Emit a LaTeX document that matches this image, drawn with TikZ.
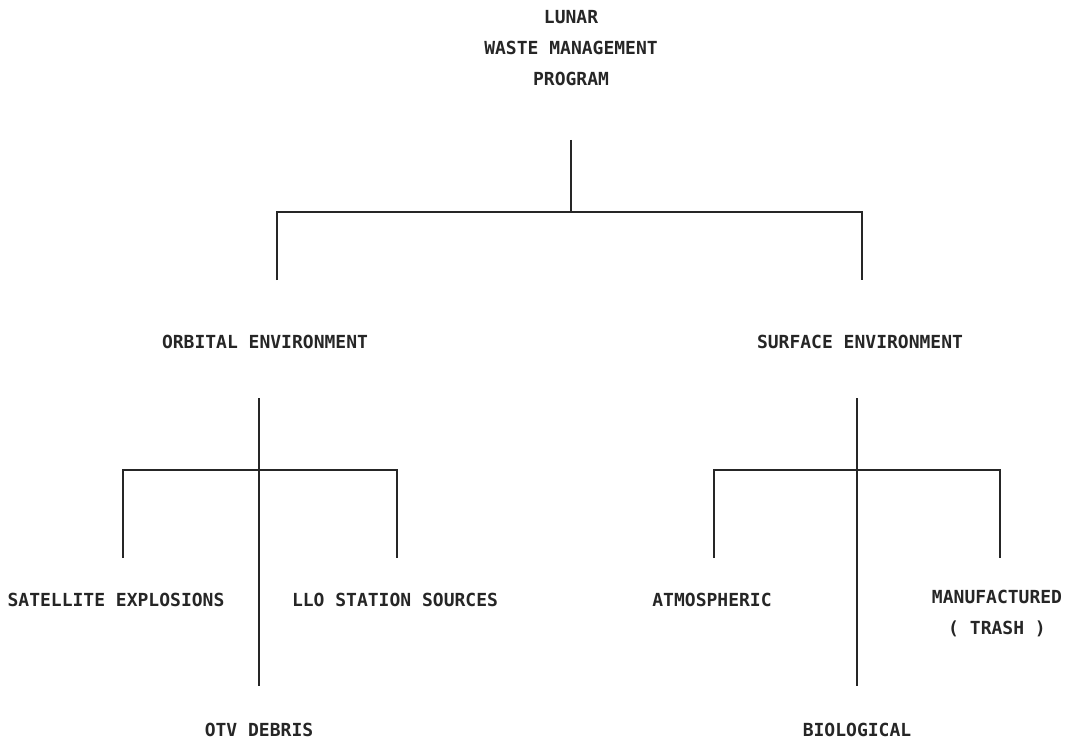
\documentclass[tikz,border=0pt]{standalone}
\usepackage{fontspec}
\setmainfont{DejaVu Sans Mono}
\begin{document}
\begin{tikzpicture}[x=1pt,y=-1pt,
  lbl/.style={inner sep=0pt, font=\fontsize{18}{31}\selectfont\bfseries, align=center, text=black!85},
  con/.style={line width=1.6pt, black!85}]
\useasboundingbox (0,0) rectangle (1073,746);
% texts
\node[lbl] (root) at (571,48) {LUNAR\\WASTE MANAGEMENT\\PROGRAM};
\node[lbl] (orb) at (265,342) {ORBITAL ENVIRONMENT};
\node[lbl] (sur) at (860,342) {SURFACE ENVIRONMENT};
\node[lbl] (sat) at (116,600) {SATELLITE EXPLOSIONS};
\node[lbl] (llo) at (395,600) {LLO STATION SOURCES};
\node[lbl] (otv) at (259,730) {OTV DEBRIS};
\node[lbl] (atm) at (712,600) {ATMOSPHERIC};
\node[lbl] (man) at (997,614) {MANUFACTURED\\( TRASH )};
\node[lbl] (bio) at (857,730) {BIOLOGICAL};
% junction coordinates
\coordinate (rt) at (571,140);
\coordinate (rj) at (571,212);
\coordinate (ol) at (277,212);
\coordinate (olb) at (277,280);
\coordinate (sl) at (862,212);
\coordinate (slb) at (862,280);
\coordinate (ot) at (259,398);
\coordinate (oj) at (259,470);
\coordinate (oa) at (123,470);
\coordinate (oab) at (123,558);
\coordinate (ob) at (397,470);
\coordinate (obb) at (397,558);
\coordinate (oc) at (259,686);
\coordinate (st) at (857,398);
\coordinate (sj) at (857,470);
\coordinate (sa) at (714,470);
\coordinate (sab) at (714,558);
\coordinate (sb) at (1000,470);
\coordinate (sbb) at (1000,558);
\coordinate (sc) at (857,686);
% connectors
\draw[con] (rt) -- (rj);
\draw[con] (olb) -- (ol) -- (sl) -- (slb);
\draw[con] (ot) -- (oj) -- (oc);
\draw[con] (oab) -- (oa) -- (ob) -- (obb);
\draw[con] (st) -- (sj) -- (sc);
\draw[con] (sab) -- (sa) -- (sb) -- (sbb);
\end{tikzpicture}
\end{document}
